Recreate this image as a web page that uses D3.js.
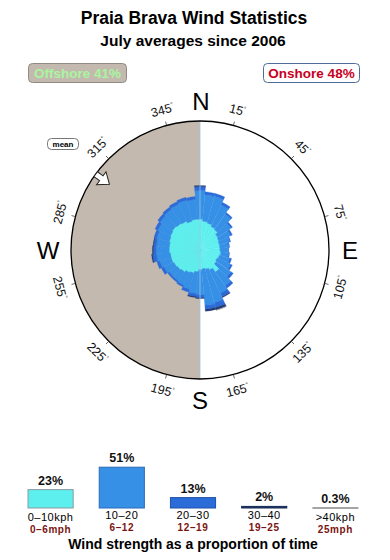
<!DOCTYPE html>
<html>
<head>
<meta charset="utf-8">
<script src="https://cdn.jsdelivr.net/npm/d3@7"></script>
<style>
  body { margin: 0; background: #fff; }
  svg { display: block; font-family: "Liberation Sans", Arial, sans-serif; }
</style>
</head>
<body>
<svg id="chart" width="390" height="560"></svg>
<script>
// wind directions (degrees, centre of each 10 deg sector)
const directions = d3.range(0, 360, 10);

const band0to10 = [3.1, 2.9, 2.8, 2.6, 2.5, 2.2, 2.1, 2.0, 2.0, 2.0, 2.1, 2.0, 1.9, 2.0, 2.7, 2.2, 2.0, 1.9,
                   2.0, 2.2, 2.4, 2.5, 2.7, 2.8, 2.9, 3.0, 3.0, 3.1, 3.1, 3.2, 3.3, 3.4, 3.3, 3.2, 3.0, 3.1];
const band10to20 = [2.9, 2.7, 2.8, 2.4, 1.9, 1.6, 1.3, 1.1, 0.9, 0.8, 0.8, 1.1, 1.5, 1.8, 1.7, 2.6, 3.5, 3.7,
                    2.5, 2.2, 1.7, 1.4, 1.1, 1.0, 1.1, 1.2, 1.4, 1.3, 1.3, 1.3, 1.4, 1.5, 1.7, 1.9, 2.2, 2.0];
const band20to30 = [0.4, 0.3, 0.3, 0.3, 0.2, 0.2, 0.2, 0.1, 0.1, 0.1, 0.1, 0.2, 0.2, 0.3, 0.3, 0.4, 0.5, 0.4,
                    0.3, 0.3, 0.3, 0.2, 0.2, 0.2, 0.3, 0.3, 0.4, 0.3, 0.3, 0.3, 0.3, 0.3, 0.3, 0.3, 0.3, 0.3];
const band30to40 = [0.1, 0, 0, 0, 0, 0, 0, 0, 0, 0, 0, 0, 0, 0, 0, 0.1, 0.25, 0.2,
                    0.1, 0.1, 0, 0, 0, 0, 0, 0, 0.1, 0.1, 0.05, 0, 0, 0, 0, 0, 0, 0];
const band40plus = [0, 0, 0, 0, 0, 0, 0, 0, 0, 0, 0, 0, 0, 0, 0, 0, 0.05, 0,
                    0, 0, 0, 0, 0, 0, 0, 0, 0, 0, 0, 0, 0, 0, 0, 0, 0, 0];
const roseBands = [band0to10, band10to20, band20to30, band30to40, band40plus];

// bar chart of speed bands
const speedKph = ["0\u201310kph", "10\u201320", "20\u201330", "30\u201340", ">40kph"];
const speedMph = ["0\u20136mph", "6\u201312", "12\u201319", "19\u201325", "25mph"];
const speedShare = [23, 51, 13, 2, 0.3];
const speedLabels = ["23%", "51%", "13%", "2%", "0.3%"];

const tickAngles = d3.range(15, 360, 30);
const cardinals = ["N", "E", "S", "W"];
const meanDirection = 306;
const offshoreText = "Offshore 41%";
const onshoreText = "Onshore 48%";

const bandFill = ["#5cefee", "#3590e6", "#2b6cd8", "#1f3a74", "#a0a0a0"];
const bandStroke = ["#8a9aa0", "#2a6cb8", "#1f50a8", "#142850", "#909090"];

const svg = d3.select("#chart");
const cx = 200, cy = 250, R = 129;
const rad = d => d * Math.PI / 180;

// titles
svg.append("text").attr("x", 194).attr("y", 24).attr("text-anchor", "middle")
  .attr("font-size", 17.5).attr("font-weight", "bold").text("Praia Brava Wind Statistics");
svg.append("text").attr("x", 193).attr("y", 46).attr("text-anchor", "middle")
  .attr("font-size", 15.5).attr("font-weight", "bold").text("July averages since 2006");

// offshore / onshore badges
function badge(x, y, w, h, fill, stroke, color, txt, size) {
  svg.append("rect").attr("x", x).attr("y", y).attr("width", w).attr("height", h)
    .attr("rx", 4).attr("fill", fill).attr("stroke", stroke).attr("stroke-width", 1);
  svg.append("text").attr("x", x + w / 2).attr("y", y + h / 2).attr("dy", "0.36em")
    .attr("text-anchor", "middle").attr("font-size", size).attr("font-weight", "bold")
    .attr("fill", color).text(txt);
}
badge(28.5, 63.5, 98, 19, "#c4b9ae", "#8f8a84", "#a8f5a0", offshoreText, 13.5);
badge(263.5, 63.5, 96, 19, "#ffffff", "#4d6d98", "#c8001e", onshoreText, 13.5);
badge(47.5, 138.5, 31, 11, "#ffffff", "#777", "#000", "mean", 8);

// compass
const g = svg.append("g").attr("transform", `translate(${cx},${cy})`);

g.append("path")
  .attr("d", d3.arc()({innerRadius: 0, outerRadius: R, startAngle: Math.PI, endAngle: 2 * Math.PI}))
  .attr("fill", "#c4b9ae");

const r = d3.scaleLinear().domain([0, 13]).range([0, R]);
const arc = d3.arc();

directions.forEach((dir, i) => {
  let cum = 0;
  roseBands.forEach((band, b) => {
    const v = band[i];
    if (v <= 0) return;
    g.append("path")
      .attr("d", arc({
        innerRadius: r(cum), outerRadius: r(cum + v),
        startAngle: rad(dir - 5), endAngle: rad(dir + 5)
      }))
      .attr("fill", bandFill[b])
      .attr("stroke", bandFill[b])
      .attr("stroke-width", 0.3);
    cum += v;
  });
});

// offshore/onshore divider
g.append("line").attr("x1", 0).attr("x2", 0).attr("y1", -R).attr("y2", R)
  .attr("stroke", "#9cc8e6").attr("stroke-width", 1).attr("opacity", 0.8);

g.append("circle").attr("r", R).attr("fill", "none").attr("stroke", "#000").attr("stroke-width", 1.3);

// ticks and degree labels
tickAngles.forEach(a => {
  const s = Math.sin(rad(a)), c = -Math.cos(rad(a));
  g.append("line").attr("x1", s * R).attr("y1", c * R).attr("x2", s * (R + 4)).attr("y2", c * (R + 4))
    .attr("stroke", "#444").attr("stroke-width", 0.8);
  const rot = a < 90 ? a : (a < 270 ? a - 180 : a - 360);
  const t = g.append("text")
    .attr("transform", `translate(${s * 145},${c * 145}) rotate(${rot})`)
    .attr("text-anchor", "middle").attr("dy", "0.35em")
    .attr("font-size", 12.5).attr("fill", "#111");
  t.append("tspan").text(a);
  t.append("tspan").attr("font-size", 6).attr("dy", "-0.9em").text("\u00b0");
});

// cardinal letters
const cardPos = {N: [1, -140], E: [150, 9], S: [0, 159], W: [-152, 9]};
cardinals.forEach(k => {
  g.append("text").attr("x", cardPos[k][0]).attr("y", cardPos[k][1])
    .attr("text-anchor", "middle").attr("font-size", 24).text(k);
});

// mean direction arrow, pointing to the centre
const mr = 121;
const ms = Math.sin(rad(meanDirection)), mc = -Math.cos(rad(meanDirection));
g.append("path")
  .attr("transform", `translate(${ms * mr},${mc * mr}) rotate(${meanDirection + 90})`)
  .attr("d", "M9,0 L-1,-8 L-1,-3 L-8,-3 L-8,3 L-1,3 L-1,8 Z")
  .attr("fill", "#fff").attr("stroke", "#222").attr("stroke-width", 1);

// speed bar chart
const x = d3.scaleBand().domain(speedKph).range([15, 371]).paddingInner(0.366).paddingOuter(0.183);
const y = d3.scaleLinear().domain([0, 100]).range([508, 428]);

const bars = svg.append("g");
speedKph.forEach((k, i) => {
  const top = y(speedShare[i]);
  bars.append("rect").attr("x", x(k)).attr("y", top)
    .attr("width", x.bandwidth()).attr("height", Math.max(y(0) - top, 0.5))
    .attr("fill", bandFill[i]).attr("stroke", bandStroke[i]).attr("stroke-width", 1);
  const mid = x(k) + x.bandwidth() / 2;
  bars.append("text").attr("x", mid).attr("y", top - 5).attr("text-anchor", "middle")
    .attr("font-size", 12.5).attr("font-weight", "bold").attr("fill", "#111").text(speedLabels[i]);
  const hasDesc = k.indexOf("kph") >= 0;
  bars.append("text").attr("x", mid).attr("y", hasDesc ? 521 : 519).attr("text-anchor", "middle")
    .attr("font-size", 11).attr("letter-spacing", 0.5).attr("fill", "#000").text(k);
  bars.append("text").attr("x", mid).attr("y", hasDesc ? 532.5 : 530.5).attr("text-anchor", "middle")
    .attr("font-size", 10).attr("letter-spacing", 0.6).attr("font-weight", "bold")
    .attr("fill", "#7a1410").text(speedMph[i]);
});

svg.append("text").attr("x", 193).attr("y", 549).attr("text-anchor", "middle")
  .attr("font-size", 14).attr("font-weight", "bold").text("Wind strength as a proportion of time");
</script>
</body>
</html>
